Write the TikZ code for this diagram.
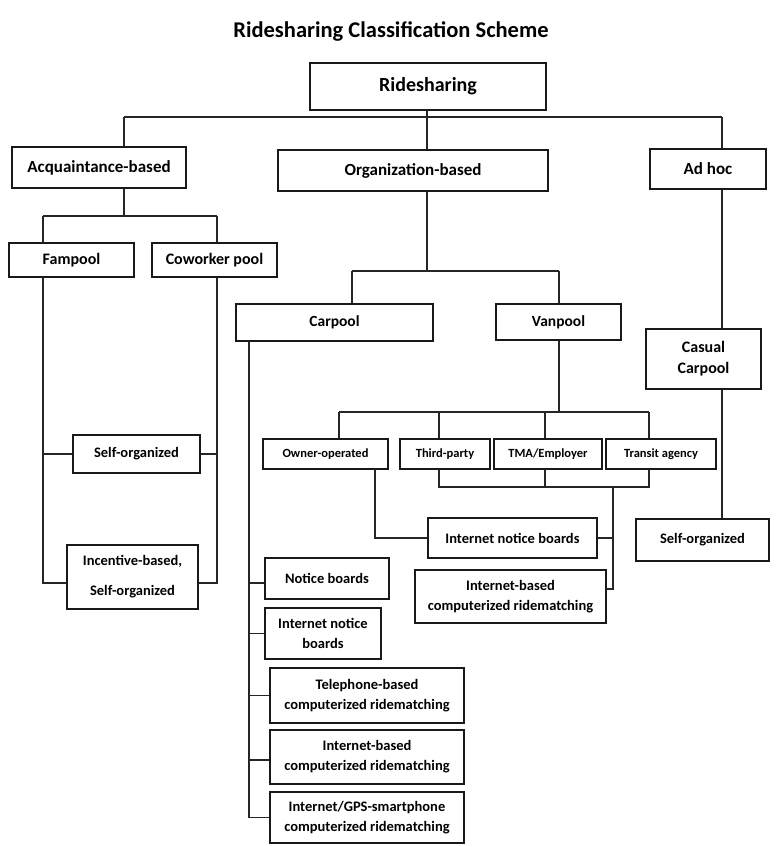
\documentclass[tikz,border=0pt]{standalone}
\usepackage{fontspec}
\setmainfont{Carlito}
\begin{document}
\begin{tikzpicture}[x=1pt,y=-1pt,
  box/.style={draw=black!90, line width=1.4pt, inner sep=0pt, align=center,
    font=\bfseries\fontsize{14.5}{20}\selectfont},
  conn/.style={draw=black!85, line width=1.2pt},
]
\useasboundingbox (0,0) rectangle (776,846);
\fill[white] (0,0) rectangle (776,846);

\node[font=\bfseries\fontsize{22.5}{26}\selectfont] (title) at (391,31) {Ridesharing Classification Scheme};

\node[box, font=\bfseries\fontsize{20}{24}\selectfont, minimum width=236, minimum height=47] (ride) at (428,86.5) {Ridesharing};

\node[box, font=\bfseries\fontsize{17}{20}\selectfont, minimum width=174, minimum height=41] (acq) at (99,167.5) {Acquaintance-based};
\node[box, font=\bfseries\fontsize{17}{20}\selectfont, minimum width=270, minimum height=41] (org) at (413,170.5) {Organization-based};
\node[box, font=\bfseries\fontsize{17}{20}\selectfont, minimum width=116, minimum height=40] (adhoc) at (708,169) {Ad hoc};

\node[box, font=\bfseries\fontsize{16}{20}\selectfont, minimum width=125, minimum height=34] (fam) at (71.5,260) {Fampool};
\node[box, font=\bfseries\fontsize{16}{20}\selectfont, minimum width=125, minimum height=34] (cow) at (214.5,260) {Coworker pool};

\node[box, font=\bfseries\fontsize{15.5}{20}\selectfont, minimum width=197, minimum height=37] (carpool) at (334.5,322.5) {Carpool};
\node[box, font=\bfseries\fontsize{15.5}{20}\selectfont, minimum width=125, minimum height=36] (vanpool) at (558.5,322) {Vanpool};
\node[box, font=\bfseries\fontsize{16}{21}\selectfont, minimum width=115, minimum height=60] (casual) at (703.5,359) {Casual\\Carpool};

\node[box, minimum width=127, minimum height=38] (selfL) at (136.5,454) {Self-organized};
\node[box, font=\bfseries\fontsize{14.5}{30}\selectfont, minimum width=131, minimum height=64] (incent) at (132.5,577) {Incentive-based,\\Self-organized};

\node[box, font=\bfseries\fontsize{12.5}{15}\selectfont, minimum width=125, minimum height=30] (owner) at (325.5,454) {Owner-operated};
\node[box, font=\bfseries\fontsize{12.5}{15}\selectfont, minimum width=90, minimum height=30] (third) at (445,454) {Third-party};
\node[box, font=\bfseries\fontsize{12.5}{15}\selectfont, minimum width=108, minimum height=30] (tma) at (548,454) {TMA/Employer};
\node[box, font=\bfseries\fontsize{12.5}{15}\selectfont, minimum width=110, minimum height=30] (transit) at (661,454) {Transit agency};

\node[box, minimum width=169, minimum height=40] (inbR) at (512.5,538) {Internet notice boards};
\node[box, minimum width=191, minimum height=53] (ibcR) at (510.5,596.5) {Internet-based\\computerized ridematching};
\node[box, minimum width=133, minimum height=42] (selfR) at (702.5,540) {Self-organized};

\node[box, minimum width=124, minimum height=41] (nb) at (327,578.5) {Notice boards};
\node[box, minimum width=116, minimum height=51] (inbL) at (323,633.5) {Internet notice\\boards};
\node[box, minimum width=194, minimum height=55] (tel) at (367,695.5) {Telephone-based\\computerized ridematching};
\node[box, minimum width=194, minimum height=54] (ibcL) at (367,757) {Internet-based\\computerized ridematching};
\node[box, minimum width=194, minimum height=51] (gps) at (367,817.5) {Internet/GPS-smartphone\\computerized ridematching};

% junction coordinates
\coordinate (b1L) at (124,117);
\coordinate (b1M) at (427,117);
\coordinate (b1R) at (722,117);
\coordinate (b2) at (124,216);
\coordinate (b2L) at (43,216);
\coordinate (b2R) at (217,216);
\coordinate (oj) at (427,271);
\coordinate (cpj) at (352,271);
\coordinate (vpj) at (559,271);
\coordinate (vb) at (559,412);
\coordinate (vb1) at (339,412);
\coordinate (vb2) at (439,412);
\coordinate (vb3) at (545,412);
\coordinate (vb4) at (649,412);
\coordinate (lb1) at (439,487);
\coordinate (lb3) at (545,487);
\coordinate (lb4) at (649,487);
\coordinate (rj) at (613,487);
\coordinate (oc) at (375,469);
\coordinate (cv) at (249,341);

% level 1
\draw[conn] (ride.south -| b1M) -- (b1M);
\draw[conn] (b1L) -- (b1R);
\draw[conn] (b1L) -- (b1L |- acq.north);
\draw[conn] (b1M) -- (b1M |- org.north);
\draw[conn] (b1R) -- (b1R |- adhoc.north);

% ad hoc branch
\draw[conn] (b1R |- adhoc.south) -- (b1R |- casual.north);
\draw[conn] (b1R |- casual.south) -- (b1R |- selfR.north);

% acquaintance branch
\draw[conn] (b2 |- acq.south) -- (b2);
\draw[conn] (b2L) -- (b2R);
\draw[conn] (b2L) -- (b2L |- fam.north);
\draw[conn] (b2R) -- (b2R |- cow.north);
\draw[conn] (b2L |- fam.south) |- ([yshift=-6pt]incent.west);
\draw[conn] (b2R |- cow.south) |- ([yshift=-6pt]incent.east);
\draw[conn] (b2L |- selfL.west) -- (selfL.west);
\draw[conn] (b2R |- selfL.east) -- (selfL.east);

% organization branch
\draw[conn] (oj |- org.south) -- (oj);
\draw[conn] (cpj) -- (vpj);
\draw[conn] (cpj) -- (cpj |- carpool.north);
\draw[conn] (vpj) -- (vpj |- vanpool.north);

% vanpool branch
\draw[conn] (vb |- vanpool.south) -- (vb);
\draw[conn] (vb1) -- (vb4);
\draw[conn] (vb1) -- (vb1 |- owner.north);
\draw[conn] (vb2) -- (vb2 |- third.north);
\draw[conn] (vb3) -- (vb3 |- tma.north);
\draw[conn] (vb4) -- (vb4 |- transit.north);
\draw[conn] (lb1 |- third.south) -- (lb1) -- (lb4) -- (lb4 |- transit.south);
\draw[conn] (lb3 |- tma.south) -- (lb3);
\draw[conn] (rj) |- ([yshift=7.5pt]ibcR.east);
\draw[conn] (rj |- inbR.east) -- (inbR.east);
\draw[conn] (oc) |- (inbR.west);

% carpool branch
\draw[conn] (cv) |- (gps.west);
\draw[conn] (cv |- nb.west) ++(0,4.5) -- ([yshift=-4.5pt]nb.west);
\draw[conn] (cv |- inbL.west) -- (inbL.west);
\draw[conn] (cv |- tel.west) -- (tel.west);
\draw[conn] (cv |- ibcL.west) ++(0,3) -- ([yshift=-3pt]ibcL.west);
\end{tikzpicture}
\end{document}
